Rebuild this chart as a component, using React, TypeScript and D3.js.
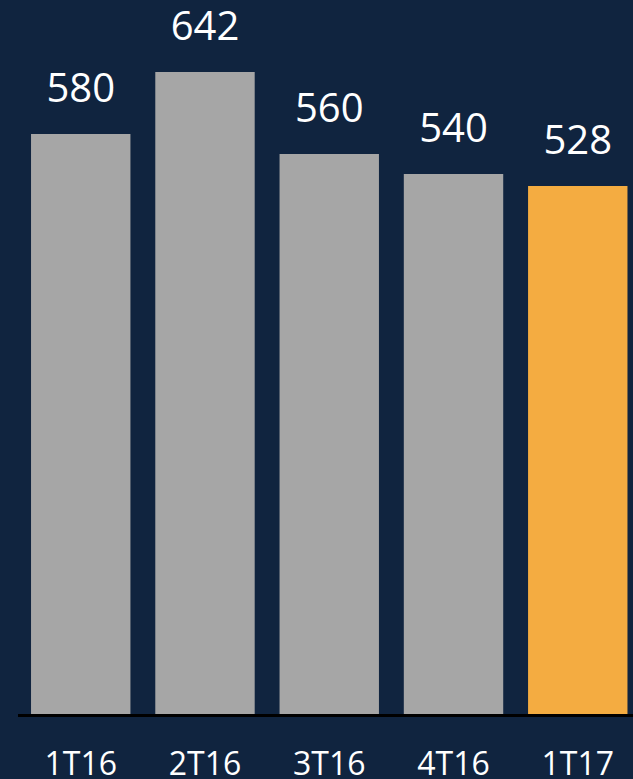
import React from "react";
import * as d3 from "d3";

const categories = ["1T16", "2T16", "3T16", "4T16", "1T17"];
const values = [580, 642, 560, 540, 528];
const highlight = [false, false, false, false, true];

const W = 633;
const H = 779;

export default function App() {
  const x = d3
    .scaleBand<string>()
    .domain(categories)
    .range([18.6, 639.9])
    .paddingInner(0.2)
    .paddingOuter(0.1);
  const y = d3.scaleLinear().domain([0, 700]).range([714, 14]);
  const font = "'Open Sans', 'DejaVu Sans', sans-serif";
  return (
    <svg
      width={W}
      height={H}
      style={{ position: "absolute", left: 0, top: 0, display: "block" }}
    >
      <rect x={0} y={0} width={W} height={H} fill="#10243F" />
      {categories.map((c, i) => (
        <g key={c}>
          <rect
            x={x(c)!}
            y={y(values[i])}
            width={x.bandwidth()}
            height={y(0) - y(values[i])}
            fill={highlight[i] ? "#F4AC41" : "#A6A6A6"}
          />
          <text
            x={x(c)! + x.bandwidth() / 2}
            y={y(values[i]) - 32}
            textAnchor="middle"
            fill="#FFFFFF"
            fontFamily={font}
            fontSize={40}
          >
            {values[i]}
          </text>
          <text
            x={x(c)! + x.bandwidth() / 2}
            y={775}
            textAnchor="middle"
            fill="#FFFFFF"
            fontFamily={font}
            fontSize={32}
          >
            {c}
          </text>
        </g>
      ))}
      <line x1={18} x2={W} y1={715.5} y2={715.5} stroke="#000000" strokeWidth={3} />
    </svg>
  );
}
